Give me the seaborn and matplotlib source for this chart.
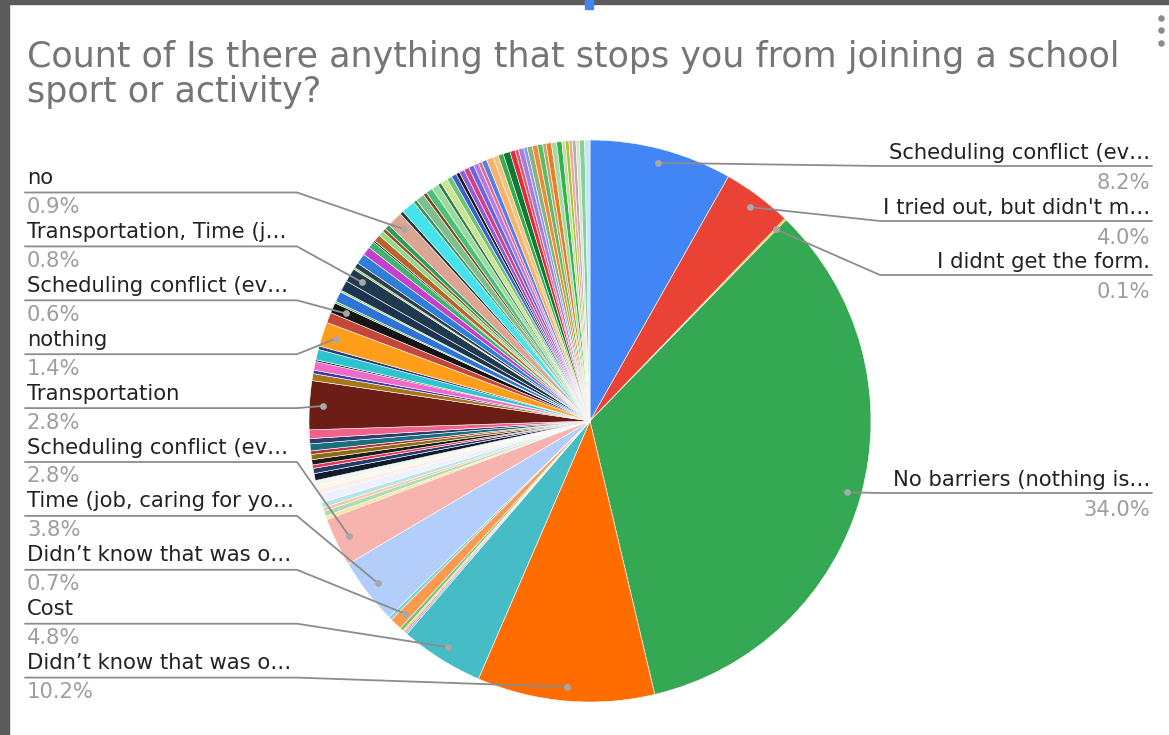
import numpy as np
import matplotlib.pyplot as plt
import seaborn as sns
from matplotlib.patches import Rectangle

W, H = 1169, 735

title_lines = ["Count of Is there anything that stops you from joining a school",
               "sport or activity?"]

# share of answers, clockwise from 12 o'clock
slice_values = [
    8.2, 4.0, 0.1, 34.0, 10.2, 4.8,
    0.1, 0.1, 0.1, 0.2, 0.7, 0.2,
    3.8, 2.8,
    0.2, 0.3, 0.2, 0.3, 0.5, 0.3, 0.2, 0.3,
    0.4, 0.3, 0.2, 0.3, 0.3, 0.2, 0.4, 0.3, 0.5,
    2.8,
    0.4, 0.2, 0.5, 0.1, 0.6, 0.2,
    1.4,
    0.6, 0.6,
    0.1, 0.6, 0.1, 0.6,
    0.8,
    0.1, 0.3, 0.6, 0.5, 0.4, 0.1, 0.4, 0.3, 0.2, 0.3,
    0.9,
    0.2, 0.8, 0.2, 0.5, 0.2, 0.4, 0.4, 0.2, 0.4, 0.3,
    0.3, 0.2, 0.3, 0.3, 0.3, 0.3, 0.2, 0.3, 0.4, 0.3,
    0.3, 0.4, 0.3, 0.2, 0.3, 0.2, 0.3, 0.3, 0.3, 0.2,
    0.3, 0.3, 0.3, 0.2, 0.2, 0.2, 0.2, 0.2, 0.3, 0.3,
]

slice_colors = [
    '#4285F4', '#EA4335', '#FBBC04', '#34A853', '#FF6D01', '#46BDC6',
    '#7BAAF7', '#F07B72', '#FCD04F', '#71C287', '#FF994D', '#7ED1D7',
    '#B3CEFB', '#F7B4AE',
    '#FDE49B', '#AEDCBA', '#FFC599', '#B5E5E8', '#ECF3FE', '#FDEEED', '#FEF8E3', '#EEF7F1',
    '#0D1B2A', '#243B6B', '#E53950', '#1B1B1B', '#8A6D12', '#B8323B', '#17707A', '#2B3F6E', '#F2608C',
    '#6B1D16',
    '#A8741C', '#3B3BA8', '#F06AC8', '#222222', '#2EC4CF', '#2A3F7A',
    '#FF9E1B',
    '#C4473A', '#141414',
    '#4CAF50', '#2F73D6', '#9CD65C', '#1E3350',
    '#1F3A4F',
    '#8BC34A', '#2C3E50', '#2F7ED8', '#C43FCB', '#3DB36B', '#1A1A1A', '#B8652A', '#93D98A', '#8B5A2B', '#2E9E5A',
    '#DBA592',
    '#1E3A3A', '#45E3EC', '#3F8F5A', '#7FBF8F', '#7A4A1E', '#4CC07A', '#9ADB9A', '#2E7D4F', '#C9E68C', '#6FC27A',
    '#3E5FC9', '#1A1A1A', '#8F5FD6', '#D23F8A', '#6A66D9', '#B57BE6', '#E36A8F', '#5A7FE0', '#F7B36B', '#F0C47A',
    '#3DAA55', '#0B7A32', '#E8283C', '#D95B6A', '#A77BE6', '#7E9FE0', '#8FB07A', '#F08A3A', '#5DBB63', '#C4A46A',
    '#E67E22', '#A8D8A8', '#2DB54B', '#D8D0A8', '#9ACD32', '#F4A7A0', '#B0B0B0', '#E0E0C0', '#7FD3A0', '#C8E6F0',
]

# slices that carry a callout label
callout_index = [0, 1, 2, 3, 4, 5, 10, 12, 13, 31, 38, 40, 45, 56]
callout_text = [
    "Scheduling conflict (ev…",
    "I tried out, but didn't m…",
    "I didnt get the form.",
    "No barriers (nothing is…",
    "Didn’t know that was o…",
    "Cost",
    "Didn’t know that was o…",
    "Time (job, caring for yo…",
    "Scheduling conflict (ev…",
    "Transportation",
    "nothing",
    "Scheduling conflict (ev…",
    "Transportation, Time (j…",
    "no",
]

sns.set_theme(style="white")
plt.rcParams['font.family'] = ['DejaVu Sans']

def py(y):
    # picture y (from top) -> data y
    return H - y

fig = plt.figure(figsize=(W / 100, H / 100), dpi=100)
ax = fig.add_axes([0, 0, 1, 1])

cx, cy, R = 590, py(421), 281
wedges, _ = ax.pie(slice_values, colors=slice_colors, startangle=90, counterclock=False,
                   center=(cx, cy), radius=R,
                   wedgeprops=dict(edgecolor='white', linewidth=0.4))
ax.set_xlim(0, W)
ax.set_ylim(0, H)
ax.set_aspect('equal')
ax.axis('off')

total = sum(slice_values)
labels = dict(zip(callout_index, callout_text))
markers = {}
for i in callout_index:
    w = wedges[i]
    mid = np.deg2rad((w.theta1 + w.theta2) / 2)
    markers[i] = (cx + 0.95 * R * np.cos(mid), cy + 0.95 * R * np.sin(mid))

name_color = '#222222'
pct_color = '#9E9E9E'
line_color = '#8C8C8C'
fs = 15.2

# left side callouts, stacked top-down
left = sorted([i for i in callout_index if markers[i][0] < cx], reverse=True)
for k, i in enumerate(left):
    base = 184 + 53.9 * k
    ly = base + 8.5
    ax.text(27, py(base), labels[i], ha='left', va='baseline', fontsize=fs, color=name_color)
    ax.text(27, py(base + 29), f"{slice_values[i] / total * 100:.1f}%", ha='left', va='baseline',
            fontsize=fs, color=pct_color)
    mx, my = markers[i]
    ax.plot([25, 297, mx], [py(ly), py(ly), my], color=line_color, lw=1.3, zorder=4)
    ax.scatter([mx], [my], s=24, color='#A8A8A8', zorder=5, linewidths=0)

# right side callouts
right = sorted([i for i in callout_index if markers[i][0] >= cx])
right_line_y = [166, 221, 275, 493]
for i, ly in zip(right, right_line_y):
    ax.text(1150, py(ly - 7), labels[i], ha='right', va='baseline', fontsize=fs, color=name_color)
    ax.text(1150, py(ly + 23), f"{slice_values[i] / total * 100:.1f}%", ha='right', va='baseline',
            fontsize=fs, color=pct_color)
    mx, my = markers[i]
    ax.plot([mx, 880, 1152], [my, py(ly), py(ly)], color=line_color, lw=1.3, zorder=4)
    ax.scatter([mx], [my], s=24, color='#A8A8A8', zorder=5, linewidths=0)

ax.text(27, py(67), title_lines[0], ha='left', va='baseline', fontsize=25.1, color='#757575')
ax.text(27, py(102), title_lines[1], ha='left', va='baseline', fontsize=25.1, color='#757575')

# screenshot frame and menu dots
ax.add_patch(Rectangle((0, 0), 9, H, color='#5B5B5B', zorder=10))
ax.add_patch(Rectangle((0, H - 4), W, 4, color='#5B5B5B', zorder=10))
ax.add_patch(Rectangle((585, H - 9), 8, 9, color='#4285F4', zorder=11))
ax.scatter([1161, 1161, 1161], [py(18), py(30), py(43)], s=22, color='#8A8A8A', zorder=10, linewidths=0)

fig.savefig('out.png', dpi=100, facecolor='white')
